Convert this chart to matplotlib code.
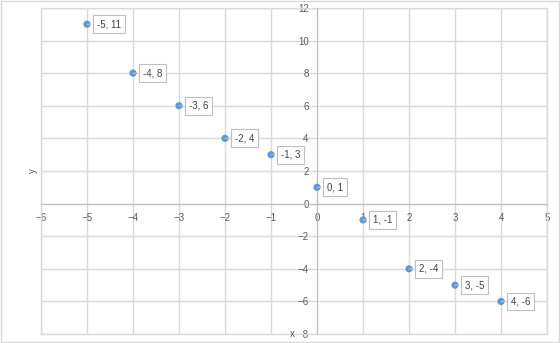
import matplotlib
matplotlib.use("Agg")
import matplotlib.pyplot as plt
from matplotlib.patches import Rectangle

xs = [-5, -4, -3, -2, -1, 0, 1, 2, 3, 4]
ys = [11, 8, 6, 4, 3, 1, -1, -4, -5, -6]
xticks = [-6, -5, -4, -3, -2, -1, 0, 1, 2, 3, 4, 5]
yticks = [-8, -6, -4, -2, 0, 2, 4, 6, 8, 10, 12]

plt.rcParams['font.family'] = ['Liberation Sans', 'DejaVu Sans']
fig = plt.figure(figsize=(5.6, 3.43), dpi=100)
fig.patches.append(Rectangle((0.001, 0.002), 0.997, 0.995, transform=fig.transFigure,
                             fill=False, edgecolor='#d9d9d9', linewidth=1))
ax = fig.add_axes([0.0732, 0.026, 0.9036, 0.951])
ax.set_xlim(-6, 5)
ax.set_ylim(-8, 12)
ax.set_xticks(xticks)
ax.set_yticks(yticks)
ax.grid(True, color='#d9d9d9', linewidth=1)
ax.set_axisbelow(True)
for s in ['top', 'right']:
    ax.spines[s].set_visible(False)
ax.spines['left'].set_position(('data', 0))
ax.spines['bottom'].set_position(('data', 0))
ax.spines['left'].set_color('#bfbfbf')
ax.spines['bottom'].set_color('#bfbfbf')
ax.spines['left'].set_zorder(1.5)
ax.spines['bottom'].set_zorder(1.5)
ax.tick_params(length=0, labelsize=7, labelcolor='#595959')
ax.tick_params(axis='x', pad=7)
ax.tick_params(axis='y', pad=6)
# outer gridline border
ax.plot([-6, 5, 5, -6, -6], [-8, -8, 12, 12, -8], color='#d9d9d9', lw=1, zorder=1, clip_on=False)

ax.scatter(xs, ys, s=27, color='#5B9BD5', zorder=3, edgecolors='none')
for x, y in zip(xs, ys):
    ax.annotate(f"{x}, {y}", xy=(x, y), xytext=(7, 0), textcoords='offset points',
                ha='left', va='center', fontsize=7, color='#404040',
                bbox=dict(boxstyle='square,pad=0.4', fc='white', ec='#bfbfbf', lw=0.8),
                arrowprops=dict(arrowstyle='-', color='#bfbfbf', lw=0.8, shrinkA=2, shrinkB=0),
                zorder=4)

fig.text(33 / 560, 1 - 171 / 343, 'y', rotation=90, ha='center', va='center', fontsize=7, color='#595959')
fig.text(292 / 560, 1 - 334 / 343, 'x', ha='center', va='center', fontsize=7, color='#595959')
fig.savefig('out.png', dpi=100)
